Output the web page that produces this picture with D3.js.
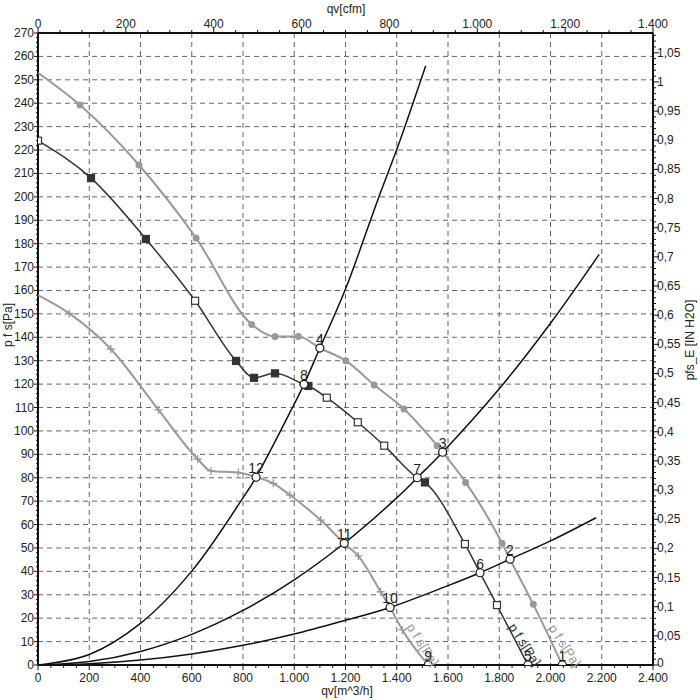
<!DOCTYPE html>
<html><head><meta charset="utf-8">
<script src="https://cdn.jsdelivr.net/npm/d3@7"></script>
<style>body{margin:0;background:#fff}svg{display:block;font-family:"Liberation Sans",Arial,sans-serif}</style>
</head><body><svg id="c" width="700" height="700"></svg>
<script>
// ---- data ----
const xTicksM3h = [0,200,400,600,800,1000,1200,1400,1600,1800,2000,2200,2400];
const xTicksCfm = [0,200,400,600,800,1000,1200,1400];
const yTicksPa = d3.range(0,271,10);
const yTicksInH2O = [0,0.05,0.1,0.15,0.2,0.25,0.3,0.35,0.4,0.45,0.5,0.55,0.6,0.65,0.7,0.75,0.8,0.85,0.9,0.95,1,1.05];

// fan curve 1 (light, circle markers)
const fan1StartQ = [0], fan1StartP = [253];
const fan1Q = [164,394,617,834,925,1016,1201,1312,1428,1558,1669,1811,1933];
const fan1P = [239.2,213.6,182.4,145.5,140.3,140.3,130,119.6,109.4,93.7,78,52,25.9];
// fan curve 2 (dark, square markers)
const fan2Q = [0,207,421,613,773,843,925,1055,1127,1248,1351,1510,1666,1791];
const fan2P = [224,208,182,155.6,129.9,122.7,124.6,119.2,114.2,103.7,93.7,78,51.7,25.6];
const fan2Open = [1,0,0,1,0,0,0,0,1,1,1,0,1,1];
// fan curve 3 (light, plus markers)
const fan3StartQ = [0], fan3StartP = [158];
const fan3Q = [122,284,470,623,675,782,918,983,1103,1250,1337,1422];
const fan3P = [150.2,135,109,88,82.9,82.2,77.6,72.6,61.9,46.6,31.3,15];

// system curves
const sysAQ = [0,200,400,600,800,851,1000,1038,1100,1200,1327,1406,1513];
const sysAP = [0,4.5,17.8,40.1,71.4,80.2,111.5,119.9,135.4,160.6,199,222,256];
const sysBQ = [0,200,400,600,800,1000,1195,1400,1480,1579,1800,2000,2190];
const sysBP = [0,1.5,5.8,13.1,23.3,36.4,52,71.4,80,90.9,118,146,175.4];
const sysCQ = [0,200,400,600,800,1000,1200,1374,1600,1725,1842,2000,2178];
const sysCP = [0,0.5,2.1,4.7,8.4,13.2,19.1,24.6,33.9,39.4,45.2,53,62.9];

// operating points
const opLabel = ["1","2","3","4","5","6","7","8","9","10","11","12"];
const opQ = [2046,1842,1579,1100,1912,1725,1480,1038,1523,1374,1195,851];
const opP = [0,45.2,90.9,135.4,0,39.4,80,119.9,0,24.6,52,80.2];
const opCurve = [1,1,1,1,2,2,2,2,3,3,3,3];

const curveLabel = "p f s[Pa]";

// ---- drawing ----
const L=38,R=653,T=33,B=665;
const x = d3.scaleLinear([0,2400],[L,R]);
const xTop = d3.scaleLinear([0,1400],[L,R]);
const y = d3.scaleLinear([0,270],[B,T]);
const yR = d3.scaleLinear([0,270/249.089],[B,T]);
const svg = d3.select("#c");
const loc = d3.formatLocale({decimal:",",thousands:".",grouping:[3],currency:["",""]});
const fInt = loc.format(",d");
const fDec = loc.format("~g");

svg.append("defs").append("clipPath").attr("id","clip").append("rect")
  .attr("x",L).attr("y",T).attr("width",R-L).attr("height",B-T);

// grid
const grid = svg.append("g").attr("stroke","#666").attr("stroke-width",1).attr("stroke-dasharray","5,4");
xTicksM3h.filter(v=>v>0&&v<2400).forEach(v=>grid.append("line").attr("x1",x(v)).attr("x2",x(v)).attr("y1",T).attr("y2",B));
yTicksPa.filter(v=>v>0&&v<270).forEach(v=>grid.append("line").attr("x1",L).attr("x2",R).attr("y1",y(v)).attr("y2",y(v)));

// axes
const ax = svg.append("g").attr("stroke","#111");
// bottom
ax.append("line").attr("x1",L).attr("x2",R).attr("y1",B).attr("y2",B).attr("stroke-width",2);
d3.range(0,2401,50).forEach(v=>{const maj=v%200===0;ax.append("line").attr("x1",x(v)).attr("x2",x(v)).attr("y1",B).attr("y2",B+(maj?5:3));});
// top
ax.append("line").attr("x1",L).attr("x2",R).attr("y1",T).attr("y2",T).attr("stroke-width",2);
d3.range(0,1401,50).forEach(v=>{const maj=v%200===0;ax.append("line").attr("x1",xTop(v)).attr("x2",xTop(v)).attr("y1",T).attr("y2",T-(maj?5:3));});
// left
ax.append("line").attr("x1",L).attr("x2",L).attr("y1",T).attr("y2",B).attr("stroke-width",2);
d3.range(0,271,2).forEach(v=>{const maj=v%10===0;ax.append("line").attr("x1",L-(maj?4:2)).attr("x2",L+1).attr("y1",y(v)).attr("y2",y(v));});
// right
ax.append("line").attr("x1",R).attr("x2",R).attr("y1",T).attr("y2",B).attr("stroke-width",2);
d3.range(0,109).forEach(i=>{const v=i*0.01;const maj=i%5===0;ax.append("line").attr("x1",R).attr("x2",R+(maj?6:3)).attr("y1",yR(v)).attr("y2",yR(v));});

const tl = svg.append("g").attr("font-size",12).attr("fill","#222");
xTicksM3h.forEach(v=>tl.append("text").attr("x",x(v)).attr("y",B+17).attr("text-anchor","middle").text(fInt(v)));
xTicksCfm.forEach(v=>tl.append("text").attr("x",xTop(v)).attr("y",T-5).attr("text-anchor","middle").text(fInt(v)));
yTicksPa.forEach(v=>tl.append("text").attr("x",L-4).attr("y",y(v)+4).attr("text-anchor","end").text(v));
yTicksInH2O.forEach(v=>tl.append("text").attr("x",R+4).attr("y",yR(v)+(v===0?2:4)).attr("text-anchor","start").text(fDec(v)));

tl.append("text").attr("x",347).attr("y",695).attr("text-anchor","middle").text("qv[m^3/h]");
tl.append("text").attr("x",346).attr("y",13).attr("text-anchor","middle").text("qv[cfm]");
tl.append("text").attr("transform","translate(12,325) rotate(-90)").attr("text-anchor","middle").text("p f s[Pa]");
tl.append("text").attr("transform","translate(694,340) rotate(-90)").attr("text-anchor","middle").text("pfs_E [IN H2O]");

// curves
const plot = svg.append("g").attr("clip-path","url(#clip)");
const line = d3.line().x(d=>x(d[0])).y(d=>y(d[1])).curve(d3.curveMonotoneX);
const zip = (a,b)=>a.map((v,i)=>[v,b[i]]);
const opsOf = c=>opQ.map((q,i)=>[q,opP[i],opCurve[i]]).filter(d=>d[2]===c).map(d=>[d[0],d[1]]);
const byQ = (a,b)=>a[0]-b[0];

const sysLine = d3.line().x(d=>x(d[0])).y(d=>y(d[1])).curve(d3.curveCatmullRom);
[[sysAQ,sysAP],[sysBQ,sysBP],[sysCQ,sysCP]].forEach(([q,p])=>
  plot.append("path").attr("d",sysLine(zip(q,p))).attr("fill","none").attr("stroke","#111").attr("stroke-width",1.5));

const f1 = zip(fan1StartQ,fan1StartP).concat(zip(fan1Q,fan1P),opsOf(1)).sort(byQ);
const f2 = zip(fan2Q,fan2P).concat(opsOf(2)).sort(byQ);
const f3 = zip(fan3StartQ,fan3StartP).concat(zip(fan3Q,fan3P),opsOf(3)).sort(byQ);
const gray="#999", dark="#333";
plot.append("path").attr("d",line(f1)).attr("fill","none").attr("stroke",gray).attr("stroke-width",2);
plot.append("path").attr("d",line(f2)).attr("fill","none").attr("stroke",dark).attr("stroke-width",1.5);
plot.append("path").attr("d",line(f3)).attr("fill","none").attr("stroke",gray).attr("stroke-width",2);

// markers
zip(fan1Q,fan1P).forEach(d=>plot.append("circle").attr("cx",x(d[0])).attr("cy",y(d[1])).attr("r",3.5).attr("fill",gray));
zip(fan2Q,fan2P).forEach((d,i)=>plot.append("rect").attr("x",x(d[0])-3.5).attr("y",y(d[1])-3.5).attr("width",7).attr("height",7)
  .attr("fill",fan2Open[i]?"#fff":dark).attr("stroke",dark).attr("stroke-width",1.2));
zip(fan3Q,fan3P).forEach(d=>{const cx=x(d[0]),cy=y(d[1]);
  plot.append("path").attr("d",`M${cx-4},${cy}H${cx+4}M${cx},${cy-4}V${cy+4}`).attr("stroke",gray).attr("stroke-width",1.3);});

// curve labels
const cl = svg.append("g").attr("font-size",13);
[[1,gray,548,628],[2,dark,508,627],[3,gray,406,627]].forEach(([c,col,lx,ly])=>
  cl.append("text").attr("transform",`translate(${lx},${ly}) rotate(57)`).attr("fill",col).text(curveLabel));

// operating points
opQ.forEach((q,i)=>{
  const cx=x(q), cy=y(opP[i]);
  plot.append("circle").attr("cx",cx).attr("cy",cy).attr("r",4).attr("fill","#fff").attr("stroke","#111").attr("stroke-width",1.2);
  svg.append("text").attr("x",cx).attr("y",cy-4).attr("text-anchor","middle").attr("font-size",14).attr("fill","#222").text(opLabel[i]);
});
</script></body></html>
